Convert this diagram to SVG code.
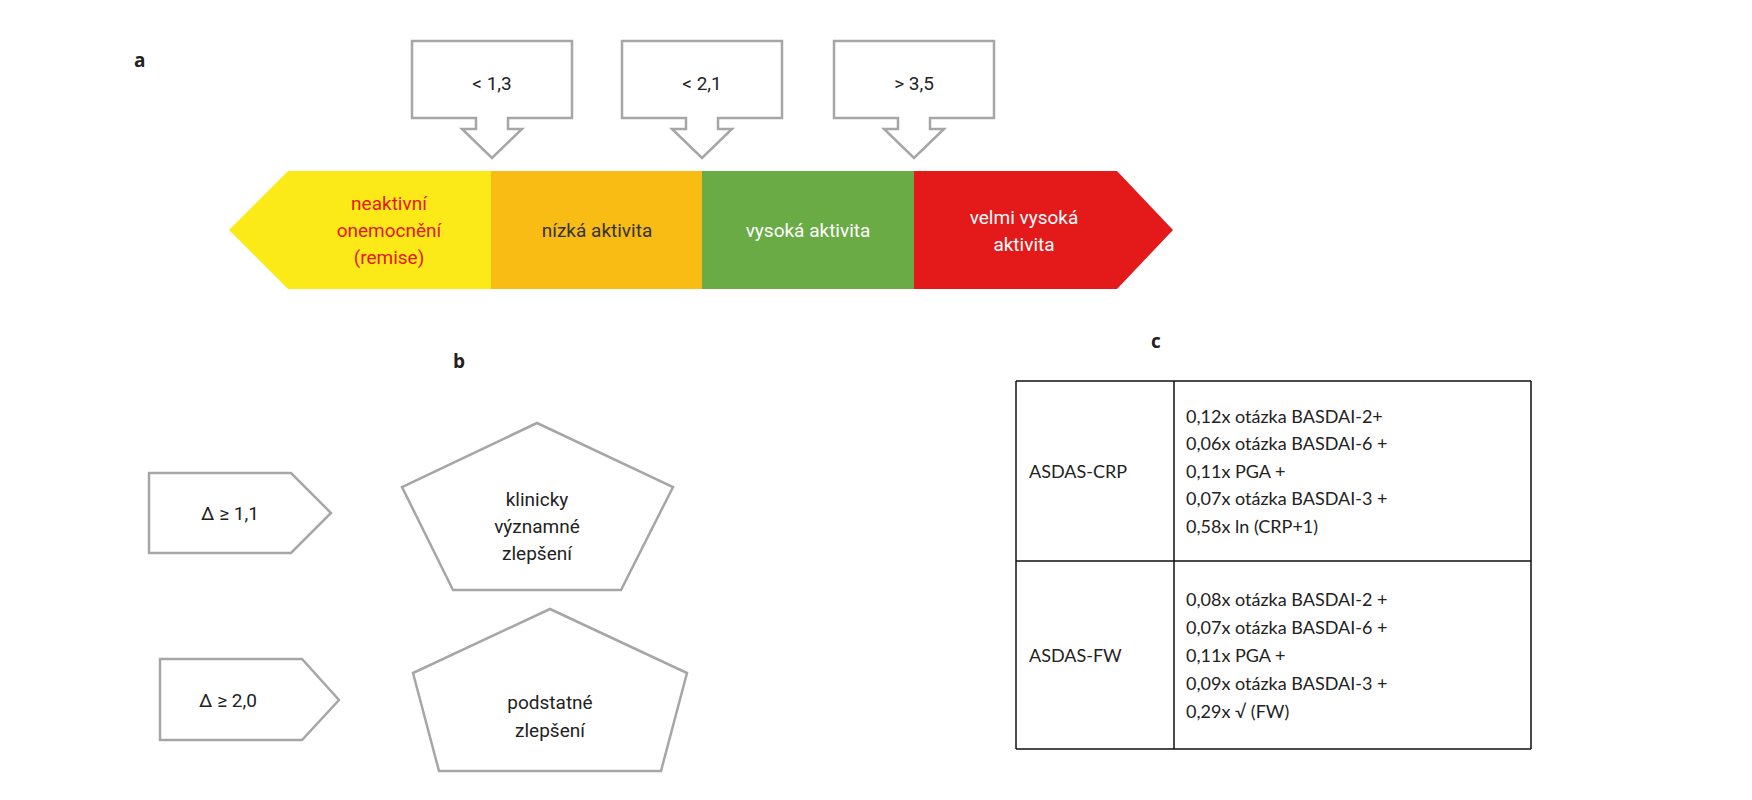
<svg xmlns="http://www.w3.org/2000/svg" width="1752" height="800" viewBox="0 0 1752 800">
<style>
.lbl{font-family:"Open Sans","Liberation Sans",sans-serif;font-weight:bold;font-size:19px;fill:#222}
.sh{fill:#fff;stroke:#a6a6a6;stroke-width:2.5}
.t{font-family:Roboto,"Liberation Sans",sans-serif;font-size:19px;text-anchor:middle}
.tb{font-family:Lato,"Liberation Sans",sans-serif;font-size:18px;fill:#222}
.ln{stroke:#111;stroke-width:1.5;fill:none}
</style>
<rect width="1752" height="800" fill="#fff"/>
<text class="lbl" x="134" y="67">a</text>
<text class="lbl" x="453" y="368">b</text>
<text class="lbl" x="1151" y="348">c</text>
<g id="bar">
<polygon points="229,230 288,171 492,171 492,289 288,289" fill="#fbe918"/>
<rect x="491" y="171" width="212" height="118" fill="#f9bc15"/>
<rect x="702" y="171" width="213" height="118" fill="#6aab45"/>
<polygon points="914,171 1117,171 1173,230 1117,289 914,289" fill="#e3191a"/>
<text class="t" fill="#e3191a" x="389" y="210">neaktivní</text>
<text class="t" fill="#e3191a" x="389" y="237">onemocnění</text>
<text class="t" fill="#e3191a" x="389" y="264">(remise)</text>
<text class="t" fill="#333" x="597" y="237">nízká aktivita</text>
<text class="t" fill="#fff" x="808" y="237">vysoká aktivita</text>
<text class="t" fill="#fff" x="1024" y="224">velmi vysoká</text>
<text class="t" fill="#fff" x="1024" y="251">aktivita</text>
</g>
<g id="callout1"><polygon class="sh" points="412,41 572,41 572,118 508,118 508,129 522,129 492,158 462,129 476,129 476,118 412,118"/><text class="t" fill="#222" x="492" y="90">&lt; 1,3</text></g>
<g id="callout2"><polygon class="sh" points="622,41 782,41 782,118 718,118 718,129 732,129 702,158 672,129 686,129 686,118 622,118"/><text class="t" fill="#222" x="702" y="90">&lt; 2,1</text></g>
<g id="callout3"><polygon class="sh" points="834,41 994,41 994,118 930,118 930,129 944,129 914,158 884,129 898,129 898,118 834,118"/><text class="t" fill="#222" x="914" y="90">&gt; 3,5</text></g>
<g id="delta1"><polygon class="sh" points="149,473 291,473 331,513 291,553 149,553"/><text class="t" fill="#222" x="230" y="520">Δ ≥ 1,1</text></g>
<g id="delta2"><polygon class="sh" points="160,659 302,659 339,700 302,740 160,740"/><text class="t" fill="#222" x="228" y="707">Δ ≥ 2,0</text></g>
<g id="pent1"><polygon class="sh" points="537,423 673,487 621,590 453,590 402,487"/><text class="t" fill="#222" x="537" y="506">klinicky</text><text class="t" fill="#222" x="537" y="533">významné</text><text class="t" fill="#222" x="537" y="560">zlepšení</text></g>
<g id="pent2"><polygon class="sh" points="550,609 687,673 661,771 439,771 413,673"/><text class="t" fill="#222" x="550" y="709">podstatné</text><text class="t" fill="#222" x="550" y="737">zlepšení</text></g>
<g id="table">
<path class="ln" d="M1016,381 H1531 M1016,561 H1531 M1016,749 H1531 M1016,381 V749 M1174,381 V749 M1531,381 V749"/>
<text class="tb" x="1029" y="478">ASDAS-CRP</text>
<text class="tb" x="1186" y="423">0,12x otázka BASDAI-2+</text>
<text class="tb" x="1186" y="450">0,06x otázka BASDAI-6 +</text>
<text class="tb" x="1186" y="478">0,11x PGA +</text>
<text class="tb" x="1186" y="505">0,07x otázka BASDAI-3 +</text>
<text class="tb" x="1186" y="533">0,58x ln (CRP+1)</text>
<text class="tb" x="1029" y="662">ASDAS-FW</text>
<text class="tb" x="1186" y="606">0,08x otázka BASDAI-2 +</text>
<text class="tb" x="1186" y="634">0,07x otázka BASDAI-6 +</text>
<text class="tb" x="1186" y="662">0,11x PGA +</text>
<text class="tb" x="1186" y="690">0,09x otázka BASDAI-3 +</text>
<text class="tb" x="1186" y="718">0,29x √ (FW)</text>
</g>
</svg>
